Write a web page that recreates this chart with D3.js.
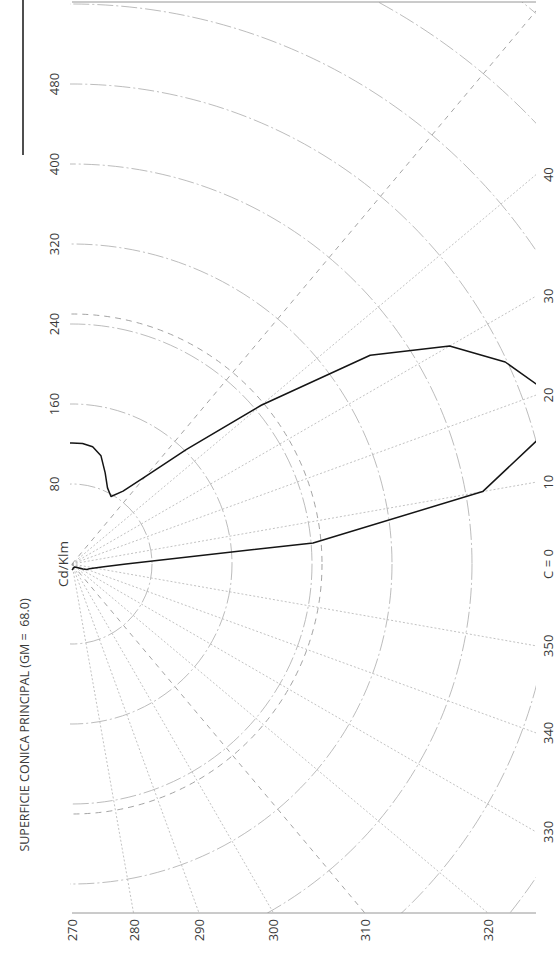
<!DOCTYPE html>
<html>
<head>
<meta charset="utf-8">
<script src="https://cdn.jsdelivr.net/npm/d3@7"></script>
<style>
  body { margin: 0; background: #fff; }
  text { font-family: "Open Sans", "Noto Sans", sans-serif; fill: #3a3a3a; white-space: pre; }
</style>
</head>
<body>
<div id="chart"></div>
<script>
// C angle (degrees) and intensity (cd/klm) on the cone surface
var curveC = [-90, -80, -70, -60, -50, -40, -30, -25, -20, -15, -10, -5, 0, 5, 10, 15, 20, 25, 30, 35, 40, 45, 50, 55, 60, 65, 70, 75, 80, 85, 90, 95];
var curveI = [6, 5, 4, 4, 4, 5, 8, 12, 16, 18, 23, 32, 54, 242, 417, 483, 505, 478, 436, 364, 247, 162, 114, 89, 78, 84, 97, 112, 119, 121, 121, 121];

var radiusTicks = [80, 160, 240, 320, 400, 480];
var gridRadii = [80, 160, 240, 320, 400, 480, 560, 640, 720];
var dashedRadius = [250];

var spokeAngles = [-80, -70, -60, -40, -30, -20, -10, 10, 20, 30, 40];
var dashedSpokes = [-50, 50];

var rightAngles = [40, 30, 20, 10, 0, -10, -20, -30];
var rightLabels = ["40", "30", "20", "10", "C = 0", "350", "340", "330"];
var bottomAngles = [-90, -80, -70, -60, -50, -40];
var bottomLabels = ["270", "280", "290", "300", "310", "320"];

var title = "SUPERFICIE CONICA PRINCIPAL (GM =  68.0)";
var unit = "Cd/Klm";

var width = 560, height = 958;
var cx = 72, cy = 564;
var box = { left: 72, right: 536, top: 2, bottom: 913 };
var rad = Math.PI / 180;

var svg = d3.select("#chart")
  .append("svg")
  .attr("width", width)
  .attr("height", height);

svg.append("clipPath")
  .attr("id", "plotclip")
  .append("rect")
  .attr("x", box.left - 2)
  .attr("y", box.top)
  .attr("width", box.right - box.left + 2)
  .attr("height", box.bottom - box.top);

var r = d3.scaleLinear().domain([0, 480]).range([0, 480]);

var g = svg.append("g")
  .attr("clip-path", "url(#plotclip)")
  .append("g")
  .attr("transform", `translate(${cx},${cy})`);

// concentric rings
g.selectAll("circle.ring")
  .data(gridRadii)
  .enter()
  .append("circle")
  .attr("class", "ring")
  .attr("r", function(d) { return r(d); })
  .style("fill", "none")
  .style("stroke", "#ababab")
  .style("stroke-width", 0.8)
  .style("stroke-dasharray", "16,3,2,3");

g.selectAll("circle.dring")
  .data(dashedRadius)
  .enter()
  .append("circle")
  .attr("class", "dring")
  .attr("r", function(d) { return r(d); })
  .style("fill", "none")
  .style("stroke", "#9a9a9a")
  .style("stroke-width", 0.9)
  .style("stroke-dasharray", "6,5");

// spokes
var far = 1200;
g.selectAll("line.spoke")
  .data(spokeAngles)
  .enter()
  .append("line")
  .attr("class", "spoke")
  .attr("x1", 0)
  .attr("y1", 0)
  .attr("x2", function(d) { return far * Math.cos(d * rad); })
  .attr("y2", function(d) { return -far * Math.sin(d * rad); })
  .style("stroke", "#b2b2b2")
  .style("stroke-width", 0.8)
  .style("stroke-dasharray", "2,2");

g.selectAll("line.dspoke")
  .data(dashedSpokes)
  .enter()
  .append("line")
  .attr("class", "dspoke")
  .attr("x1", 0)
  .attr("y1", 0)
  .attr("x2", function(d) { return far * Math.cos(d * rad); })
  .attr("y2", function(d) { return -far * Math.sin(d * rad); })
  .style("stroke", "#9a9a9a")
  .style("stroke-width", 0.9)
  .style("stroke-dasharray", "5,5");

// intensity curve
var pts = curveC.map(function(c, i) { return { c: c, v: curveI[i] }; });
var radial = d3.lineRadial()
  .angle(function(d) { return (90 - d.c) * rad; })
  .radius(function(d) { return r(d.v); });

g.append("path")
  .datum(pts)
  .attr("d", radial)
  .style("fill", "none")
  .style("stroke", "#151515")
  .style("stroke-width", 1.5)
  .style("stroke-linejoin", "round");

// frame lines
svg.append("line")
  .attr("x1", box.left).attr("y1", box.top)
  .attr("x2", box.right).attr("y2", box.top)
  .style("stroke", "#8a8a8a").style("stroke-width", 0.9);
svg.append("line")
  .attr("x1", box.left).attr("y1", box.bottom)
  .attr("x2", box.right).attr("y2", box.bottom)
  .style("stroke", "#8a8a8a").style("stroke-width", 0.9);

// legend sample line
svg.append("line")
  .attr("x1", 23).attr("y1", 0)
  .attr("x2", 23).attr("y2", 155)
  .style("stroke", "#151515").style("stroke-width", 1.5);

// radius tick labels
svg.selectAll("text.rtick")
  .data(radiusTicks)
  .enter()
  .append("text")
  .attr("class", "rtick")
  .attr("transform", function(d) { return `translate(54,${cy - r(d)}) rotate(-90)`; })
  .attr("text-anchor", "middle")
  .attr("dominant-baseline", "central")
  .style("font-size", "13px")
  .text(function(d) { return d; });

// C labels, right edge
svg.selectAll("text.cright")
  .data(rightAngles)
  .enter()
  .append("text")
  .attr("class", "cright")
  .attr("transform", function(d) {
    var y = cy - (box.right - cx) * Math.tan(d * rad);
    return `translate(548,${y}) rotate(-90)`;
  })
  .attr("text-anchor", "middle")
  .attr("dominant-baseline", "central")
  .style("font-size", "13px")
  .text(function(d, i) { return rightLabels[i]; });

// C labels, bottom edge
svg.selectAll("text.cbottom")
  .data(bottomAngles)
  .enter()
  .append("text")
  .attr("class", "cbottom")
  .attr("transform", function(d) {
    var x = cx + (box.bottom - cy) * Math.tan((90 + d) * rad);
    return `translate(${x},919) rotate(-90)`;
  })
  .attr("text-anchor", "end")
  .attr("dominant-baseline", "central")
  .style("font-size", "13px")
  .text(function(d, i) { return bottomLabels[i]; });

svg.append("text")
  .attr("transform", `translate(63,${cy}) rotate(-90)`)
  .attr("text-anchor", "middle")
  .attr("dominant-baseline", "central")
  .style("font-size", "13.5px")
  .text(unit);

svg.append("text")
  .attr("transform", "translate(24,725) rotate(-90)")
  .attr("text-anchor", "middle")
  .attr("dominant-baseline", "central")
  .style("font-size", "12.5px")
  .text(title);
</script>
</body>
</html>
